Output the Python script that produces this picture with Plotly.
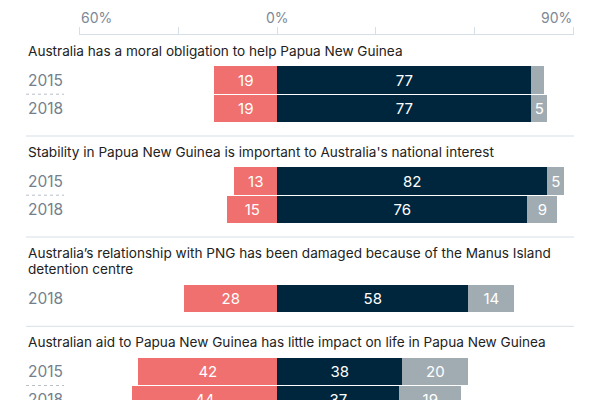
import plotly.graph_objects as go

# ---- data ----
questions = [
    "Australia has a moral obligation to help Papua New Guinea",
    "Stability in Papua New Guinea is important to Australia's national interest",
    "Australia\u2019s relationship with PNG has been damaged because of the Manus Island<br>detention centre",
    "Australian aid to Papua New Guinea has little impact on life in Papua New Guinea",
]
row_question = [0, 0, 1, 1, 2, 3, 3]
row_year = ["2015", "2018", "2015", "2018", "2018", "2015", "2018"]
disagree = [19, 19, 13, 15, 28, 42, 44]
agree = [77, 77, 82, 76, 58, 38, 37]
neither = [4, 5, 5, 9, 14, 20, 19]
tick_values = [-60, -30, 0, 30, 60, 90]
labelled_ticks = [-60, 0, 90]

# ---- layout geometry (pixels, y grows downward) ----
W, H = 600, 400
X0_PX, X1_PX = 79.3, 573.7
LEFT_PX, RIGHT_PX = 26, 574
AXIS_Y = 34
PITCH = 28.3
BAR_W = 27.5
FONT = "Inter, Roboto, Arial, sans-serif"

RED = "#f07070"
NAVY = "#00263e"
GREY = "#a0acb2"
RULE = "#d6dfe7"
TITLE_C = "#222222"
YEAR_C = "#737f8e"

row_y = [None] * len(row_year)
title_lines = []
separators = []
dashes = []
cursor = AXIS_Y + 1
for q, text in enumerate(questions):
    lines = text.split("<br>")
    ly = cursor + 15.7
    for i, ln in enumerate(lines):
        title_lines.append((ln, ly + i * 16.6))
    top = ly + (len(lines) - 1) * 16.6 + 15.2
    idx = [i for i, r in enumerate(row_question) if r == q]
    for k, i in enumerate(idx):
        row_y[i] = top + PITCH * (k + 0.5)
        if k > 0:
            dashes.append(top + PITCH * k)
    bottom = top + PITCH * len(idx)
    sep = bottom + 13.5
    if q < len(questions) - 1:
        separators.append(sep)
    cursor = sep


def lab(vals):
    return [str(v) if v >= 5 else "" for v in vals]


fig = go.Figure()
common = dict(orientation="h", y=row_y, width=BAR_W, textposition="inside",
              insidetextanchor="middle", hoverinfo="skip",
              textfont=dict(family=FONT, size=15, color="white"),
              marker_line_width=0)
fig.add_trace(go.Bar(x=[-v for v in disagree], text=lab(disagree),
                     marker_color=RED, name="Disagree", **common))
fig.add_trace(go.Bar(x=agree, text=lab(agree), marker_color=NAVY,
                     name="Agree", **common))
fig.add_trace(go.Bar(x=neither, text=lab(neither), marker_color=GREY,
                     name="Neither", **common))

annotations = []
for v in labelled_ticks:
    anchor = "left" if v == min(tick_values) else ("right" if v == max(tick_values) else "center")
    annotations.append(dict(x=v, y=17, xref="x", yref="y", text=f"{abs(v)}%",
                            showarrow=False, xanchor=anchor, yanchor="middle",
                            font=dict(family=FONT, size=14, color="#7d8896")))
for ln, y in title_lines:
    annotations.append(dict(x=LEFT_PX / W, y=y, xref="paper", yref="y", text=ln,
                            showarrow=False, xanchor="left", yanchor="middle",
                            font=dict(family=FONT, size=13.6, color=TITLE_C)))
for yr, y in zip(row_year, row_y):
    annotations.append(dict(x=LEFT_PX / W, y=y, xref="paper", yref="y", text=yr,
                            showarrow=False, xanchor="left", yanchor="middle",
                            font=dict(family=FONT, size=15.5, color=YEAR_C)))

shapes = []
for y in separators:
    shapes.append(dict(type="line", xref="paper", yref="y", x0=LEFT_PX / W, x1=RIGHT_PX / W,
                       y0=y, y1=y, line=dict(color=RULE, width=1)))
for y in dashes:
    shapes.append(dict(type="line", xref="paper", yref="y", x0=LEFT_PX / W, x1=64 / W,
                       y0=y, y1=y, line=dict(color="#b8c0c8", width=1, dash="dot")))

fig.update_layout(
    width=W, height=H,
    margin=dict(l=0, r=0, t=0, b=0),
    paper_bgcolor="white", plot_bgcolor="white",
    barmode="relative", bargap=0,
    showlegend=False,
    annotations=annotations, shapes=shapes,
    xaxis=dict(range=[min(tick_values), max(tick_values)],
               domain=[X0_PX / W, X1_PX / W],
               side="top", anchor="free", position=1 - AXIS_Y / H,
               tickvals=tick_values, showticklabels=False,
               ticks="outside", ticklen=7, tickcolor=RULE, tickwidth=1,
               showline=True, linecolor=RULE, linewidth=1,
               showgrid=False, zeroline=False, fixedrange=True),
    yaxis=dict(range=[H, 0], domain=[0, 1], visible=False, fixedrange=True),
)

fig.write_html("out.html", config={"displayModeBar": False},
               post_script="document.body.style.margin='0px';document.body.style.overflow='hidden';")
